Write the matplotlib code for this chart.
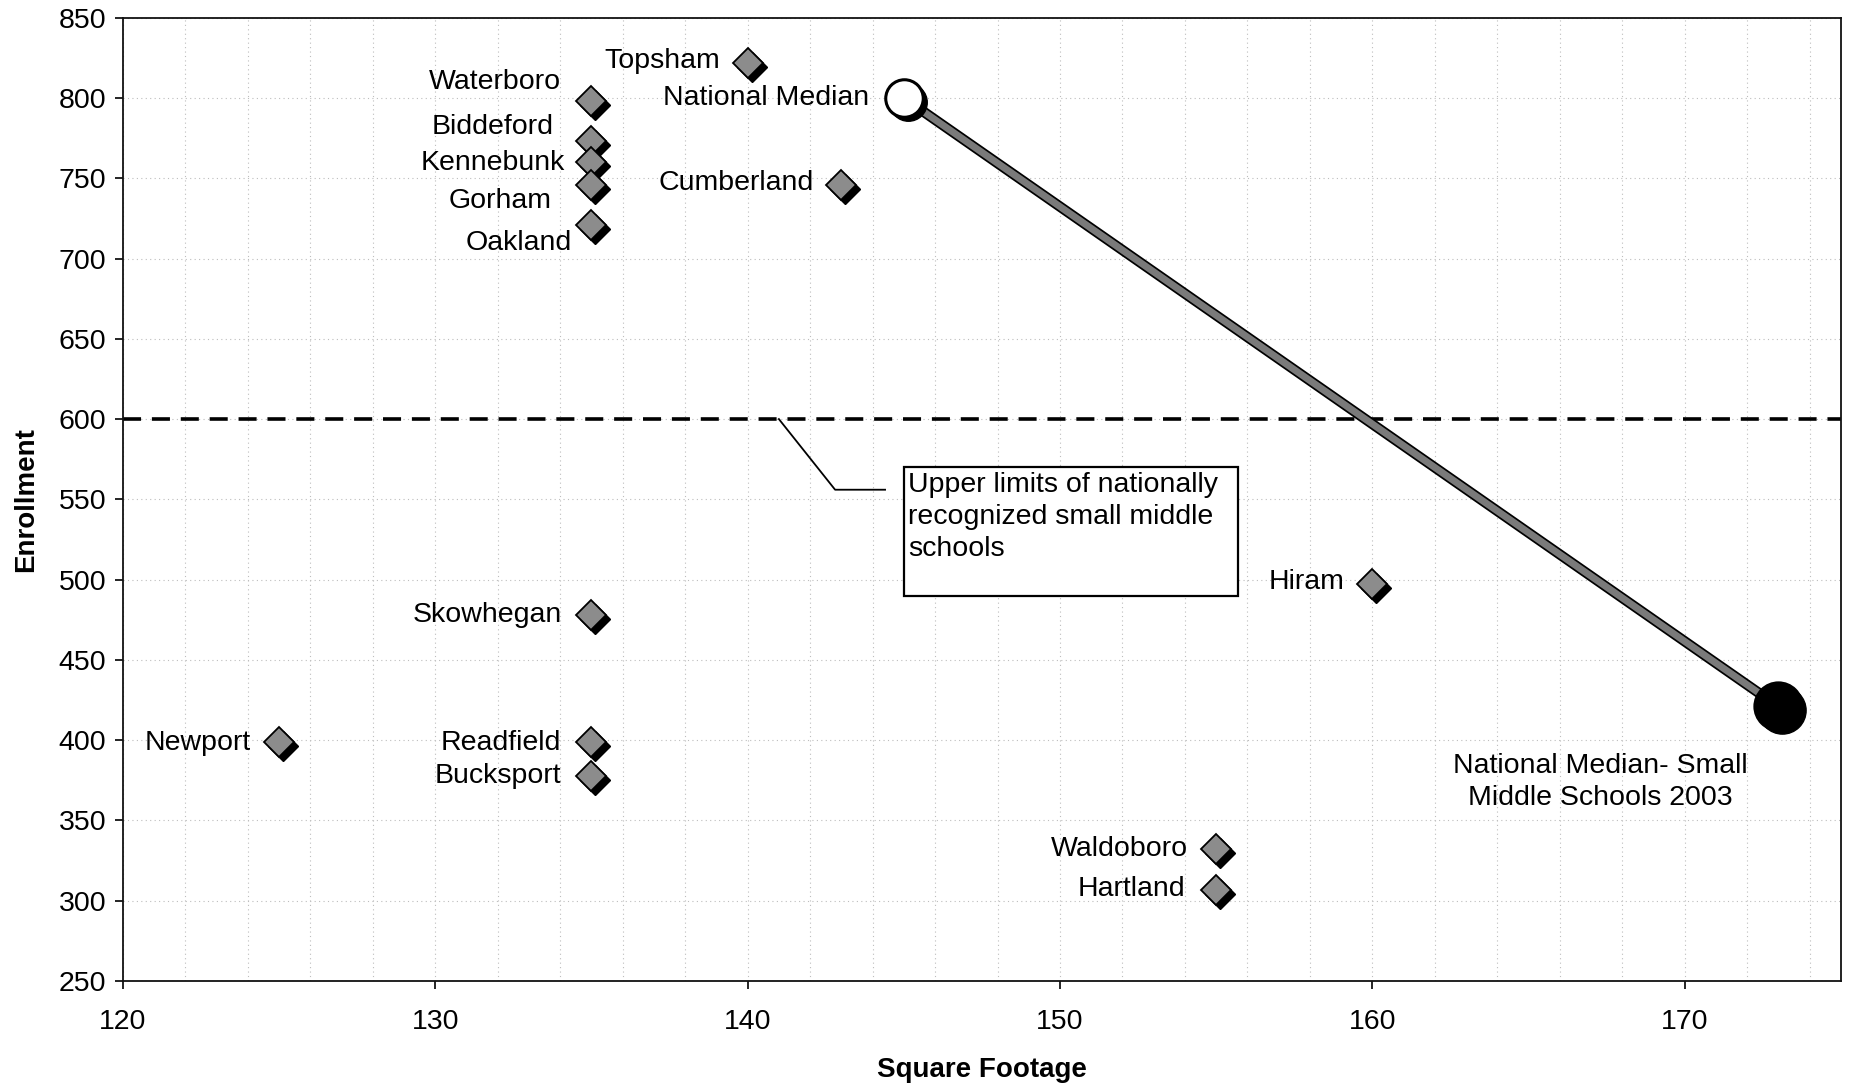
"""Enrollment vs. square footage for Maine middle schools, with national medians."""

import matplotlib as mpl
import matplotlib.pyplot as plt
import matplotlib.patheffects as pe
from matplotlib.patches import Rectangle
from matplotlib.ticker import MultipleLocator
from matplotlib.transforms import offset_copy

mpl.rcParams.update(
    {
        "font.family": ["Liberation Sans", "DejaVu Sans"],
        "axes.unicode_minus": False,
    }
)

SCHOOLS = [
    "Topsham", "Waterboro", "Biddeford", "Kennebunk", "Gorham", "Oakland",
    "Cumberland", "Skowhegan", "Newport", "Readfield", "Bucksport", "Hiram",
    "Waldoboro", "Hartland",
]
SQ_FOOTAGE = [140, 135, 135, 135, 135, 135, 143, 135, 125, 135, 135, 160, 155, 155]
ENROLLMENT = [822, 798, 773, 760, 746, 721, 746, 478, 399, 399, 378, 497, 332, 307]

MEDIAN_LABELS = ["National Median", "National Median- Small\nMiddle Schools 2003"]
MEDIAN_SQ_FOOTAGE = [145, 173]
MEDIAN_ENROLLMENT = [800, 421]

SMALL_SCHOOL_LIMIT = 600
LIMIT_NOTE = "Upper limits of nationally\nrecognized small middle\nschools"

# label offsets in pixels, relative to each marker
LABEL_OFFSETS = [
    (-28, 2), (-30, 19), (-38, 14), (-26, -1), (-40, -16), (-20, -18),
    (-28, 2), (-30, 0), (-28, -1), (-30, -1), (-30, 0), (-28, 2),
    (-28, 0), (-31, 1),
]

LABEL_SIZE = 20.5

fig = plt.figure(figsize=(18.5, 10.91), dpi=100)
ax = fig.add_axes([0.0665, 0.1008, 0.9285, 0.883])

ax.set_xlim(120, 175)
ax.set_ylim(250, 850)
ax.xaxis.set_major_locator(MultipleLocator(10))
ax.xaxis.set_minor_locator(MultipleLocator(2))
ax.yaxis.set_major_locator(MultipleLocator(50))
grid_style = {"color": "#bdbdbd", "linestyle": (0, (1, 3)), "linewidth": 0.8}
ax.grid(True, which="both", axis="x", **grid_style)
ax.grid(True, which="major", axis="y", **grid_style)
ax.tick_params(axis="both", which="major", direction="out", length=6, width=1.2,
               labelsize=20.5, pad=6)
ax.tick_params(axis="x", which="minor", length=0)
ax.tick_params(axis="x", pad=14)
for spine in ax.spines.values():
    spine.set_color("#111111")
    spine.set_linewidth(1.3)
ax.set_axisbelow(True)

ax.set_xlabel("Square Footage", fontsize=20, fontweight="bold", labelpad=16)
ax.set_ylabel("Enrollment", fontsize=20, fontweight="bold", labelpad=14)

# small-school enrollment ceiling
ax.axhline(SMALL_SCHOOL_LIMIT, color="black", linestyle=(0, (5, 3)), linewidth=2.6, zorder=2)

# line between the two national medians, drawn with a dark outline
ax.plot(
    MEDIAN_SQ_FOOTAGE,
    MEDIAN_ENROLLMENT,
    color="#7a7a7a",
    linewidth=5,
    solid_capstyle="butt",
    path_effects=[
        pe.SimpleLineShadow(offset=(1.5, -1.5), shadow_color="black", alpha=1.0),
        pe.Stroke(linewidth=7.5, foreground="black"),
        pe.Normal(),
    ],
    zorder=3,
)

# drop shadows sit a few pixels down and to the right of each marker
shadow_transform = offset_copy(ax.transData, fig=fig, x=4, y=-4, units="dots")

ax.plot(
    SQ_FOOTAGE, ENROLLMENT, linestyle="", marker="D", markersize=15,
    markerfacecolor="black", markeredgecolor="black", transform=shadow_transform,
    zorder=4,
)
ax.plot(
    SQ_FOOTAGE, ENROLLMENT, linestyle="", marker="D", markersize=15,
    markerfacecolor="#8c8c8c", markeredgecolor="black", markeredgewidth=1.3,
    zorder=4,
)

for name, x, y, (dx, dy) in zip(SCHOOLS, SQ_FOOTAGE, ENROLLMENT, LABEL_OFFSETS):
    ax.annotate(
        name, xy=(x, y), xytext=(dx, dy), textcoords="offset pixels",
        ha="right", va="center", fontsize=LABEL_SIZE, zorder=5,
    )

# national median markers
median_faces = ["white", "black"]
median_sizes = [27, 34]
for x, y, face, size in zip(MEDIAN_SQ_FOOTAGE, MEDIAN_ENROLLMENT, median_faces, median_sizes):
    ax.plot(
        [x], [y], linestyle="", marker="o", markersize=size,
        markerfacecolor="black", markeredgecolor="black",
        transform=shadow_transform, zorder=6,
    )
    ax.plot(
        [x], [y], linestyle="", marker="o", markersize=size,
        markerfacecolor=face, markeredgecolor="black", markeredgewidth=2.2,
        zorder=6,
    )

ax.annotate(
    MEDIAN_LABELS[0], xy=(MEDIAN_SQ_FOOTAGE[0], MEDIAN_ENROLLMENT[0]),
    xytext=(-35, 0), textcoords="offset pixels",
    ha="right", va="center", fontsize=LABEL_SIZE, zorder=5,
)
ax.text(
    167.3, 374, MEDIAN_LABELS[1], ha="center", va="center",
    fontsize=LABEL_SIZE, linespacing=1.3, zorder=5,
)

# callout for the small-school line
ax.plot([141.0, 142.8, 144.4], [SMALL_SCHOOL_LIMIT, 556, 556],
        color="black", linewidth=1.3, zorder=3)
ax.add_patch(
    Rectangle((145.0, 489.5), 10.7, 80.8, facecolor="white", edgecolor="black",
              linewidth=1.6, zorder=4)
)
ax.text(
    145.15, 567, LIMIT_NOTE, ha="left", va="top", fontsize=LABEL_SIZE,
    linespacing=1.3, zorder=5,
)

fig.savefig("out.png", dpi=100)
plt.close(fig)
